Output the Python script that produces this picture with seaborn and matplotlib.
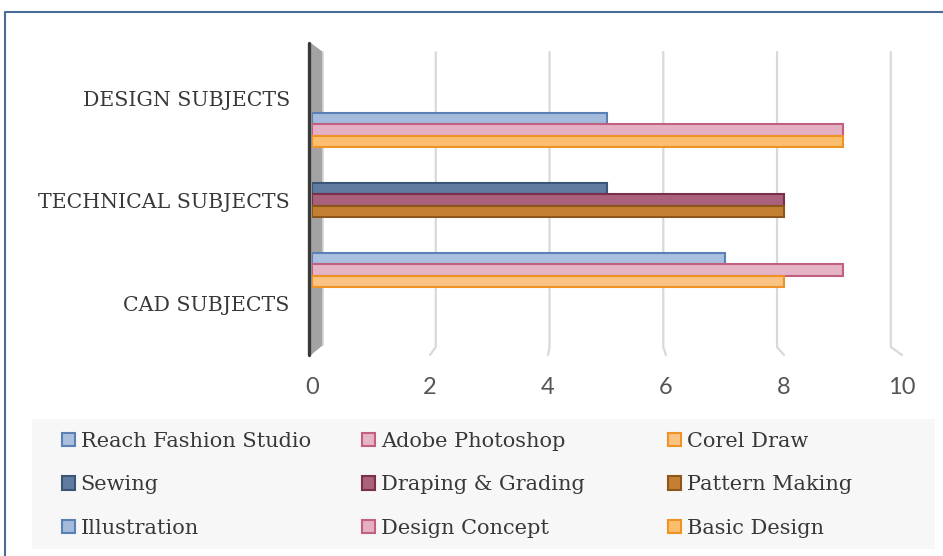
import numpy as np
import pandas as pd
import matplotlib
matplotlib.use("Agg")
import matplotlib.pyplot as plt
from matplotlib.patches import Patch, Polygon, Rectangle
from matplotlib.lines import Line2D
import seaborn as sns

# ---------------- data ----------------
categories = ["CAD SUBJECTS", "TECHNICAL SUBJECTS", "DESIGN SUBJECTS"]
cad_series = ["Reach Fashion Studio", "Adobe Photoshop", "Corel Draw"]
cad_values = [7, 9, 8]
technical_series = ["Sewing", "Draping & Grading", "Pattern Making"]
technical_values = [5, 8, 8]
design_series = ["Illustration", "Design Concept", "Basic Design"]
design_values = [5, 9, 9]
x_ticks = [0, 2, 4, 6, 8, 10]

fill_colors = {
    "Reach Fashion Studio": "#a9bfdd", "Adobe Photoshop": "#e5b4c6", "Corel Draw": "#f9c384",
    "Sewing": "#5f7b9f", "Draping & Grading": "#a9617c", "Pattern Making": "#c47f33",
    "Illustration": "#a4bbdb", "Design Concept": "#e6b0c4", "Basic Design": "#fbbd6e",
}
edge_colors = {
    "Reach Fashion Studio": "#5b80b6", "Adobe Photoshop": "#c2607f", "Corel Draw": "#ef9326",
    "Sewing": "#3b5577", "Draping & Grading": "#7b2f4d", "Pattern Making": "#8c5718",
    "Illustration": "#5b80b6", "Design Concept": "#c2607f", "Basic Design": "#ef9326",
}

# ---------------- layout constants (3-D look) ----------------
W, H = 943, 556
depth = 0.683        # back-plane compression of category spacing
mid = 1.005          # back-plane centre
slot = 0.112         # bar thickness / spacing
ylo, yhi = -0.507, 2.537
wall_x = 0.17        # depth offset of back plane in x
back_scale = 0.964
text_color = "#383838"

groups = [cad_series, technical_series, design_series]
values = [cad_values, technical_values, design_values]
rows = []
for g, (sers, vals) in enumerate(zip(groups, values)):
    for k, (s, v) in enumerate(zip(sers, vals)):
        rows.append(dict(category=categories[g], series=s, value=v,
                         ypos=mid + (g - 1) * depth + (1 - k) * slot))
df = pd.DataFrame(rows)

sns.set_theme(style="white")
plt.rcParams["font.family"] = ["DejaVu Serif"]

fig = plt.figure(figsize=(W / 100, H / 100), dpi=100)
fig.patch.set_facecolor("white")
ax = fig.add_axes([312 / W, 1 - 355 / H, 590 / W, 312 / H])
ax.set_facecolor("none")

# gridlines on back wall + floor
for v in x_ticks[1:]:
    xb = wall_x + v * back_scale
    ax.plot([v, xb, xb], [ylo, -0.429, 2.449], color="#d9d9d9", lw=1.6,
            clip_on=False, zorder=0, solid_joinstyle="miter")

# side wall
ax.add_patch(Polygon([(-0.017, ylo), (-0.017, yhi), (0.186, 2.449), (0.186, -0.41)],
                     closed=True, facecolor="#a3a3a3", edgecolor="none",
                     clip_on=False, zorder=1))
ax.plot([0.186, 0.186], [-0.41, 2.449], color="#d4d4d4", lw=1.2, clip_on=False, zorder=1)
ax.plot([-0.045, -0.045], [ylo, yhi], color="#3a3a3a", lw=2.4,
        solid_capstyle="round", clip_on=False, zorder=2)

# bars
for i in range(len(df)):
    s = df.loc[i, "series"]
    sns.barplot(data=df.iloc[[i]], x="value", y="ypos", orient="h", native_scale=True,
                width=slot, color=fill_colors[s], edgecolor=edge_colors[s],
                linewidth=1.5, saturation=1, ax=ax, zorder=3)

ax.set_xlim(0, 10)
ax.set_ylim(ylo, yhi)
ax.set_xticks(x_ticks)
ax.set_xticklabels([str(t) for t in x_ticks], fontfamily="Lato", fontweight="normal",
                   fontsize=17, color="#555555")
ax.set_yticks([0, 1, 2])
ax.set_yticklabels(categories, fontsize=14.8, color=text_color)
ax.tick_params(axis="x", length=0, pad=16, labelcolor="#555555")
ax.tick_params(axis="y", length=0, pad=16, labelcolor=text_color)
ax.set_xlabel("")
ax.set_ylabel("")
for sp in ax.spines.values():
    sp.set_visible(False)
ax.grid(False)

# legend background
fig.add_artist(Rectangle((32 / W, 1 - 549 / H), 903 / W, 130 / H, transform=fig.transFigure,
                         facecolor="#f7f7f7", edgecolor="none", zorder=0))
# outer border
fig.add_artist(Line2D([5 / W, 5 / W, 1.01], [-0.01, 1 - 12 / H, 1 - 12 / H],
                      transform=fig.transFigure, color="#4a6b96", lw=1.5))

# legends: one per column
col_x = [62, 362, 668]
legend_cols = [
    [cad_series[0], technical_series[0], design_series[0]],
    [cad_series[1], technical_series[1], design_series[1]],
    [cad_series[2], technical_series[2], design_series[2]],
]
for cx, names in zip(col_x, legend_cols):
    handles = [Patch(facecolor=fill_colors[n], edgecolor=edge_colors[n], linewidth=1.5)
               for n in names]
    leg = fig.legend(handles, names, loc="upper left",
                     bbox_to_anchor=(cx / W, 1 - 432 / H), frameon=False,
                     borderpad=0, borderaxespad=0, handlelength=0.6, handleheight=0.6,
                     handletextpad=0.3, labelspacing=1.17, fontsize=15)
    for t in leg.get_texts():
        t.set_color(text_color)

fig.savefig("out.png", dpi=100)
